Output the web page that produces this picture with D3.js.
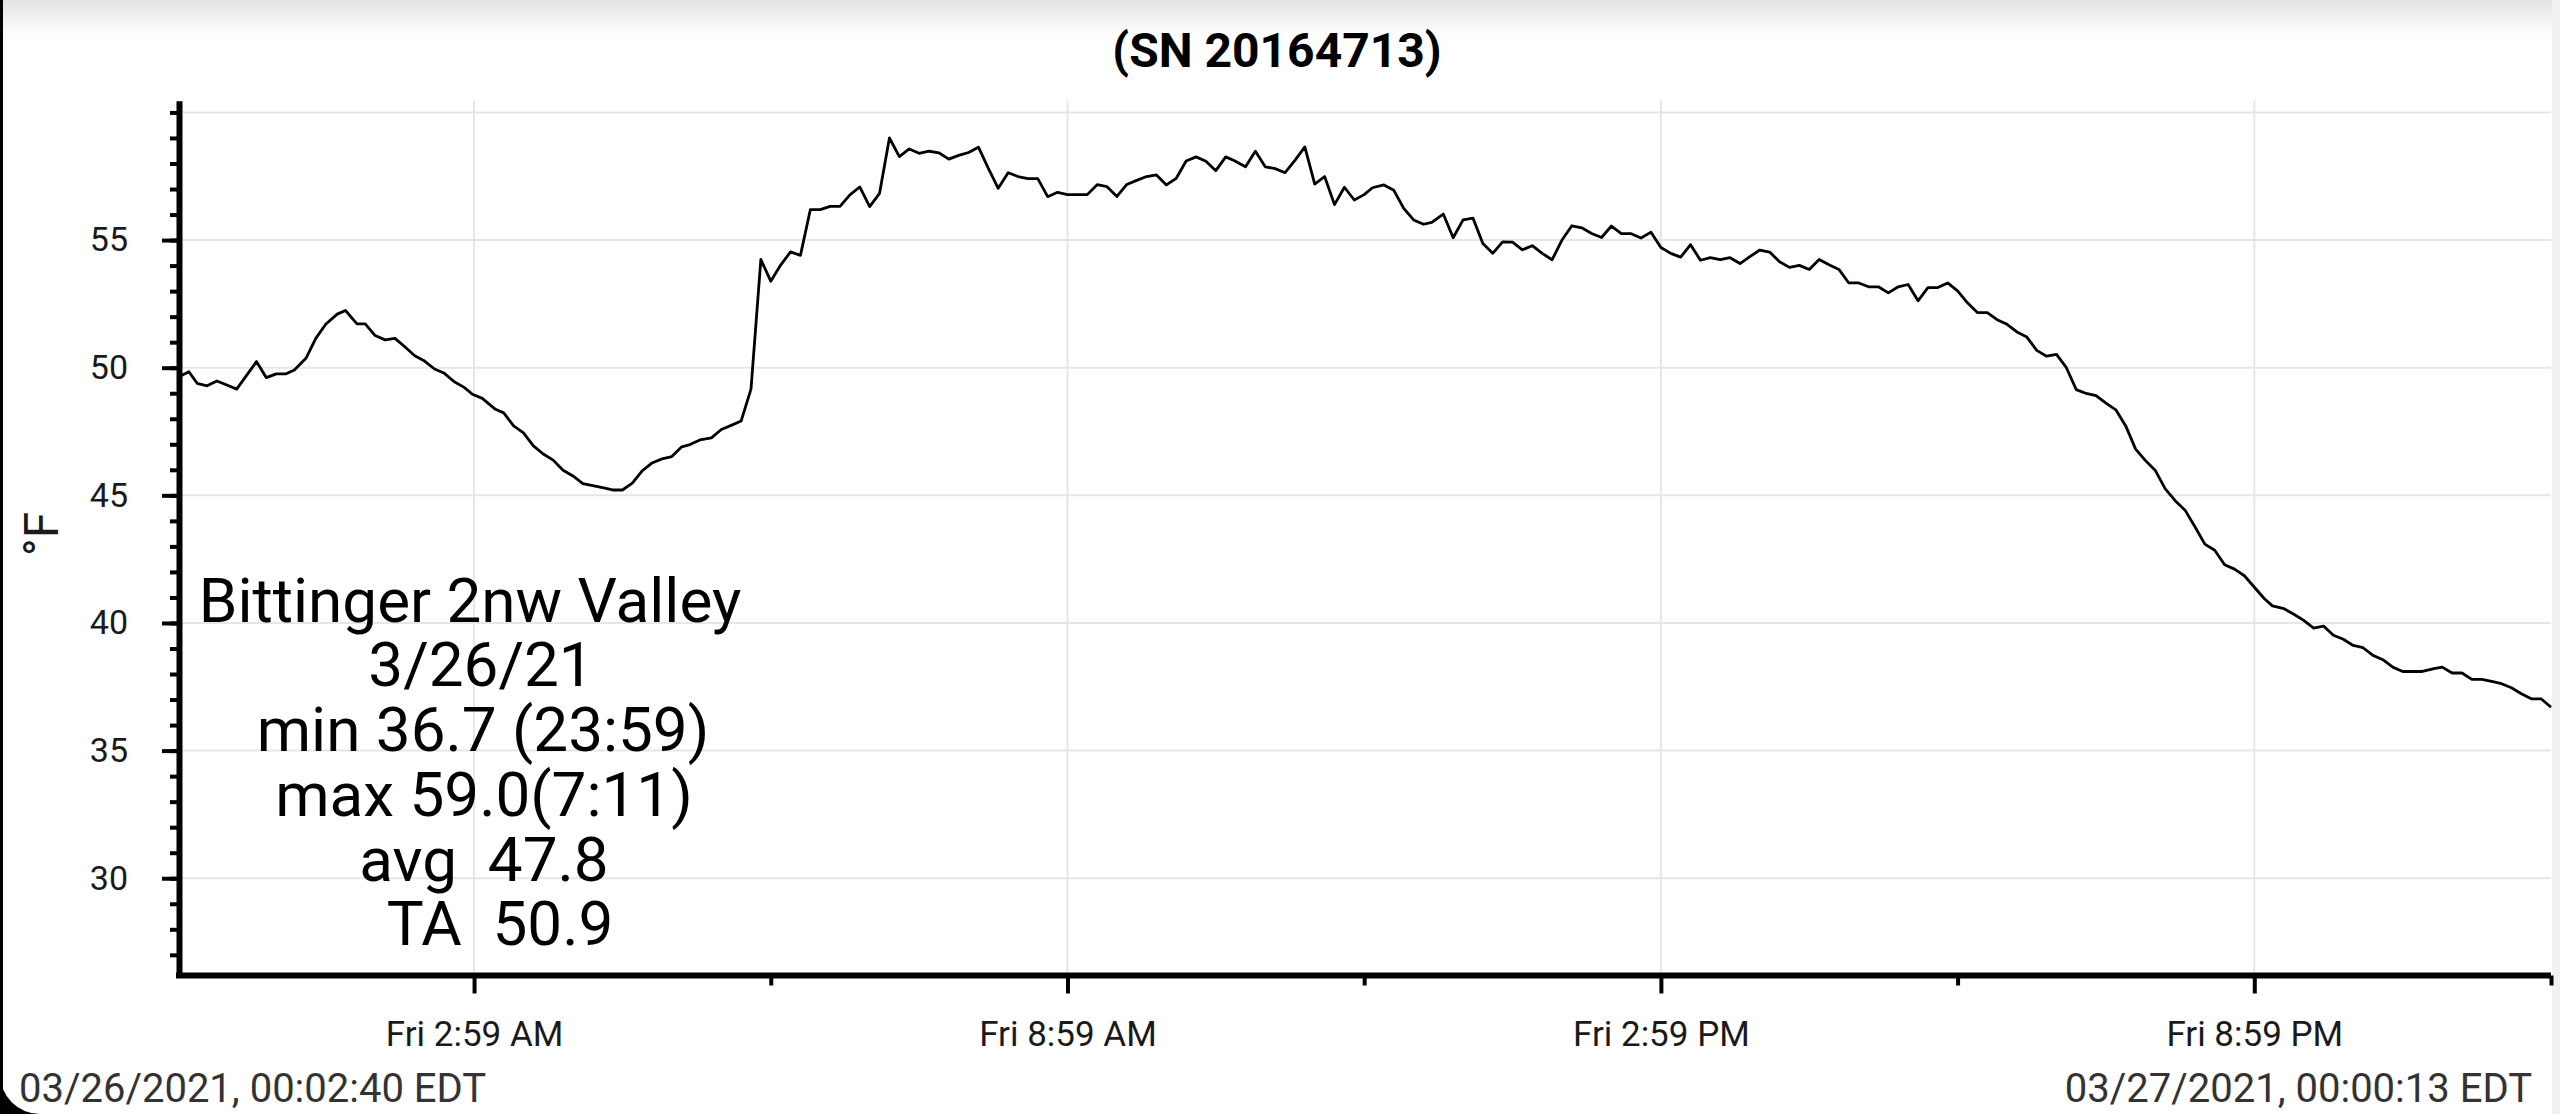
<!DOCTYPE html>
<html>
<head>
<meta charset="utf-8">
<script src="https://cdn.jsdelivr.net/npm/d3@7"></script>
<style>
  html, body { margin: 0; padding: 0; background: #fff; }
  svg { display: block; font-family: Roboto, "Noto Sans", sans-serif; }
  .stats text { white-space: pre; }
</style>
</head>
<body>
<svg id="chart"></svg>
<script>
// Readings: minutes after midnight on 3/26/21, temperature in °F
const minutes = [
  0, 6, 11, 17, 23, 29, 35, 47, 53, 59, 65, 70, 77, 83, 89, 96, 101, 108, 113, 119,
  125, 131, 137, 143, 149, 155, 161, 167, 173, 178, 184, 192, 197, 203, 209, 215, 221, 227, 233, 239,
  245, 251, 257, 263, 269, 275, 281, 287, 293, 299, 305, 310, 316, 323, 329, 335, 341, 347, 353, 359,
  365, 371, 377, 383, 389, 395, 401, 407, 413, 419, 425, 431, 437, 443, 449, 455, 461, 467, 473, 479,
  485, 491, 497, 503, 509, 515, 521, 527, 533, 539, 545, 551, 557, 563, 569, 575, 581, 587, 593, 599,
  605, 611, 617, 623, 629, 635, 640, 647, 653, 659, 665, 671, 677, 683, 689, 695, 701, 707, 713, 719,
  724, 731, 737, 743, 749, 755, 760, 767, 773, 779, 785, 791, 797, 803, 809, 815, 821, 827, 833, 839,
  845, 851, 857, 863, 869, 875, 881, 887, 893, 899, 905, 911, 917, 923, 929, 935, 941, 947, 953, 959,
  965, 971, 977, 983, 989, 995, 1001, 1007, 1013, 1019, 1025, 1031, 1037, 1043, 1049, 1055, 1061, 1067, 1073, 1079,
  1085, 1091, 1097, 1103, 1109, 1115, 1121, 1127, 1133, 1139, 1145, 1151, 1157, 1163, 1169, 1175, 1181, 1187, 1193, 1199,
  1205, 1211, 1217, 1223, 1229, 1235, 1241, 1247, 1253, 1265, 1270, 1277, 1283, 1289, 1295, 1301, 1307, 1313, 1319, 1325,
  1331, 1337, 1343, 1349, 1355, 1361, 1368, 1373, 1379, 1385, 1391, 1397, 1403, 1409, 1415, 1421, 1427, 1433, 1439
];
const temps = [
  49.65, 49.84, 49.39, 49.29, 49.48, 49.32, 49.16, 50.24, 49.61, 49.76, 49.76, 49.91, 50.37, 51.15, 51.70, 52.10, 52.24, 51.72, 51.72, 51.26,
  51.09, 51.15, 50.82, 50.47, 50.26, 49.95, 49.78, 49.45, 49.23, 48.96, 48.80, 48.37, 48.23, 47.72, 47.45, 46.94, 46.62, 46.38, 45.98, 45.76,
  45.46, 45.38, 45.30, 45.21, 45.21, 45.48, 45.96, 46.27, 46.43, 46.52, 46.90, 46.99, 47.17, 47.25, 47.58, 47.74, 47.91, 49.16, 54.24, 53.39,
  54.02, 54.54, 54.40, 56.19, 56.19, 56.32, 56.32, 56.77, 57.08, 56.31, 56.83, 59.00, 58.27, 58.57, 58.40, 58.48, 58.42, 58.17, 58.32, 58.43,
  58.64, 57.81, 57.03, 57.64, 57.49, 57.41, 57.41, 56.70, 56.87, 56.78, 56.78, 56.78, 57.17, 57.09, 56.71, 57.18, 57.34, 57.49, 57.55, 57.16,
  57.42, 58.10, 58.26, 58.09, 57.72, 58.26, 58.12, 57.87, 58.48, 57.87, 57.80, 57.64, 58.12, 58.65, 57.19, 57.49, 56.39, 57.07, 56.57, 56.78,
  57.05, 57.16, 56.95, 56.24, 55.79, 55.62, 55.69, 56.02, 55.09, 55.79, 55.86, 54.87, 54.48, 54.93, 54.92, 54.62, 54.78, 54.48, 54.23, 55.00,
  55.56, 55.48, 55.26, 55.10, 55.55, 55.25, 55.25, 55.08, 55.31, 54.71, 54.48, 54.33, 54.82, 54.21, 54.31, 54.23, 54.31, 54.08, 54.35, 54.61,
  54.53, 54.15, 53.93, 54.01, 53.85, 54.24, 54.03, 53.85, 53.32, 53.32, 53.17, 53.17, 52.93, 53.17, 53.26, 52.62, 53.14, 53.14, 53.32, 53.01,
  52.54, 52.16, 52.16, 51.88, 51.70, 51.40, 51.20, 50.68, 50.45, 50.52, 50.00, 49.14, 48.99, 48.91, 48.61, 48.35, 47.72, 46.81, 46.36, 45.97,
  45.25, 44.79, 44.42, 43.77, 43.09, 42.85, 42.28, 42.11, 41.85, 40.96, 40.67, 40.56, 40.34, 40.10, 39.80, 39.88, 39.52, 39.36, 39.12, 39.03,
  38.73, 38.56, 38.27, 38.10, 38.10, 38.10, 38.21, 38.27, 38.04, 38.04, 37.79, 37.79, 37.71, 37.62, 37.46, 37.23, 37.03, 37.03, 36.70
];

// Axis ticks
const yMajorTicks = [30, 35, 40, 45, 50, 55];
const yGridTicks = [30, 35, 40, 45, 50, 55, 60];
const yMinorTicks = d3.range(27, 61);
const xMajorTicks = [179, 539, 899, 1259];          // minutes: 2:59 AM ... 8:59 PM
const xMinorTicks = [359, 719, 1079, 1439];

// Texts
const title = "(SN 20164713)";
const yLabel = "°F";
const statLines = ["Bittinger 2nw Valley", "3/26/21", "min 36.7 (23:59)", "max 59.0(7:11)", "avg  47.8", "TA  50.9"];
const startStamp = "03/26/2021, 00:02:40 EDT";
const endStamp = "03/27/2021, 00:00:13 EDT";

const W = 2560, H = 1114;
const svg = d3.select("#chart").attr("width", W).attr("height", H);

const toDate = m => new Date(2021, 2, 26, 0, m);
const data = minutes.map((m, i) => ({ t: toDate(m), v: temps[i] }));

const plot = { left: 179, right: 2551, top: 100.7, bottom: 975.5 };

const x = d3.scaleTime()
    .domain([toDate(0), toDate(1439)])
    .range([plot.left, plot.right]);

const y = d3.scaleLinear()
    .domain([26.19, 60.46])
    .range([plot.bottom, plot.top]);

// Screen decoration: top shade, right edge
const defs = svg.append("defs");
const grad = defs.append("linearGradient").attr("id", "topShade")
    .attr("x1", 0).attr("y1", 0).attr("x2", 0).attr("y2", 1);
grad.append("stop").attr("offset", "0%").attr("stop-color", "#e3e3e3");
grad.append("stop").attr("offset", "100%").attr("stop-color", "#ffffff");
svg.append("rect").attr("x", 0).attr("y", 0).attr("width", W).attr("height", 36)
    .attr("fill", "url(#topShade)");
svg.append("rect").attr("x", 2552).attr("y", 0).attr("width", 8).attr("height", H)
    .attr("fill", "#f1f1f1");

// Gridlines
const grid = svg.append("g").attr("stroke", "#e6e6e6").attr("stroke-width", 2);
grid.selectAll("line.h")
    .data(yGridTicks)
    .join("line")
    .attr("class", "h")
    .attr("x1", plot.left).attr("x2", plot.right)
    .attr("y1", d => y(d)).attr("y2", d => y(d));
grid.selectAll("line.v")
    .data(xMajorTicks)
    .join("line")
    .attr("class", "v")
    .attr("x1", d => x(toDate(d))).attr("x2", d => x(toDate(d)))
    .attr("y1", plot.top).attr("y2", plot.bottom);

// Temperature line
const line = d3.line()
    .x(d => x(d.t))
    .y(d => y(d.v));

svg.append("path")
    .datum(data)
    .attr("fill", "none")
    .attr("stroke", "#000")
    .attr("stroke-width", 2.8)
    .attr("stroke-linejoin", "round")
    .attr("d", line);

// Y axis
const yMinor = svg.append("g")
    .attr("transform", `translate(${plot.left},0)`)
    .call(d3.axisLeft(y).tickValues(yMinorTicks).tickSize(9).tickSizeOuter(0).tickFormat(""));
yMinor.select(".domain").remove();
yMinor.selectAll(".tick line").attr("stroke", "#000").attr("stroke-width", 4);

const yAxis = svg.append("g")
    .attr("transform", `translate(${plot.left},0)`)
    .call(d3.axisLeft(y).tickValues(yMajorTicks).tickSize(17).tickSizeOuter(0).tickPadding(34));
yAxis.select(".domain").attr("stroke", "#000").attr("stroke-width", 6);
yAxis.selectAll(".tick line").attr("stroke", "#000").attr("stroke-width", 4);
yAxis.selectAll(".tick text")
    .attr("font-family", "Roboto")
    .attr("font-size", 34)
    .attr("fill", "#1a1a1a");

// X axis
const xMinor = svg.append("g")
    .attr("transform", `translate(0,${plot.bottom})`)
    .call(d3.axisBottom(x).tickValues(xMinorTicks.map(toDate)).tickSize(10).tickSizeOuter(0).tickFormat(""));
xMinor.select(".domain").remove();
xMinor.selectAll(".tick line").attr("stroke", "#000").attr("stroke-width", 4);

const xAxis = svg.append("g")
    .attr("transform", `translate(0,${plot.bottom})`)
    .call(d3.axisBottom(x)
        .tickValues(xMajorTicks.map(toDate))
        .tickSize(18).tickSizeOuter(0).tickPadding(28)
        .tickFormat(d3.timeFormat("%a %-I:%M %p")));
xAxis.select(".domain").attr("stroke", "#000").attr("stroke-width", 6)
    .attr("d", `M${plot.left - 3},0H${plot.right}`);
xAxis.selectAll(".tick line").attr("stroke", "#000").attr("stroke-width", 4);
xAxis.selectAll(".tick text")
    .attr("font-family", "Roboto")
    .attr("font-size", 35)
    .attr("fill", "#1a1a1a");

// Title
svg.append("text")
    .attr("x", 1277).attr("y", 67)
    .attr("text-anchor", "middle")
    .attr("font-size", 48)
    .attr("font-weight", "bold")
    .attr("fill", "#000")
    .text(title);

// Y label
svg.append("text")
    .attr("transform", "translate(58,534) rotate(-90)")
    .attr("text-anchor", "middle")
    .attr("font-size", 48)
    .attr("fill", "#1a1a1a")
    .text(yLabel);

// Station summary, each line centred on its own spot as in the app
const statCenters = [470, 481, 483, 484, 484, 500];
svg.append("g").attr("class", "stats")
    .selectAll("text")
    .data(statLines)
    .join("text")
    .attr("x", (d, i) => statCenters[i])
    .attr("y", (d, i) => 621.7 + i * 64.7)
    .attr("text-anchor", "middle")
    .attr("font-size", 62)
    .attr("fill", "#000")
    .text(d => d);

// Start / end timestamps
svg.append("text")
    .attr("x", 19).attr("y", 1102)
    .attr("font-size", 40)
    .attr("fill", "#333")
    .text(startStamp);
svg.append("text")
    .attr("x", 2532).attr("y", 1102)
    .attr("text-anchor", "end")
    .attr("font-size", 40)
    .attr("fill", "#333")
    .text(endStamp);

// Black screen edge on the left with rounded bottom corner
svg.append("rect").attr("x", 0).attr("y", 0).attr("width", 3).attr("height", H).attr("fill", "#000");
svg.append("path")
    .attr("d", `M0,${H - 40} A40,40 0 0 0 40,${H} L0,${H} Z`)
    .attr("fill", "#000");
</script>
</body>
</html>
